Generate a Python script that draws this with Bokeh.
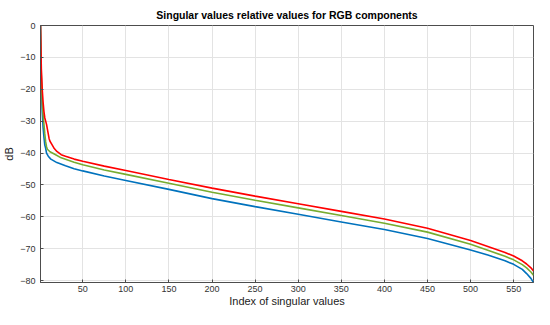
from bokeh.plotting import figure
from bokeh.models import Range1d, FixedTicker
from bokeh.embed import file_html
from bokeh.resources import INLINE

# Sampled curve points (index, dB)
red_idx = [1, 2, 3, 4, 5, 6, 7, 8, 9, 10, 11, 12, 14, 17, 20, 25, 30, 40, 50, 75, 100, 150, 200, 250, 300, 350, 400, 450, 500, 520, 540, 550, 560, 565, 570, 573]
red_db = [0, -14, -20, -24, -27, -29, -30, -31, -32.5, -34, -35.5, -36.3, -37.2, -38.6, -39.5, -40.5, -41.0, -41.9, -42.6, -44.1, -45.5, -48.3, -51.0, -53.5, -55.9, -58.3, -60.7, -63.6, -67.4, -69.3, -71.2, -72.3, -73.8, -74.8, -76.0, -77.0]

green_idx = [1, 2, 3, 4, 5, 6, 7, 8, 9, 12, 17, 25, 40, 50, 75, 100, 150, 200, 250, 300, 350, 400, 450, 500, 520, 540, 550, 560, 565, 570, 573]
green_db = [0, -16, -24, -28, -31, -34, -36.5, -38, -38.8, -39.6, -40.3, -41.5, -42.9, -43.7, -45.3, -46.7, -49.5, -52.3, -54.8, -57.2, -59.6, -62.0, -64.8, -68.6, -70.5, -72.4, -73.5, -75.0, -76.0, -77.3, -78.3]

blue_idx = [1, 2, 3, 4, 5, 6, 7, 8, 10, 13, 20, 30, 40, 50, 75, 100, 150, 200, 250, 300, 350, 400, 450, 500, 520, 540, 550, 560, 565, 570, 573]
blue_db = [0, -18, -27, -32, -35, -37.5, -38.5, -40, -41, -41.9, -43, -44, -44.9, -45.6, -47.2, -48.6, -51.4, -54.3, -56.8, -59.2, -61.6, -64.0, -66.8, -70.4, -72.0, -73.8, -74.9, -76.5, -77.8, -79.3, -80.6]

x_ticks = [50, 100, 150, 200, 250, 300, 350, 400, 450, 500, 550]
y_ticks = [0, -10, -20, -30, -40, -50, -60, -70, -80]

FONT = "Liberation Sans"
AX = "#4d4d4d"

p = figure(width=534, height=309, output_backend="svg", toolbar_location=None,
           x_range=Range1d(1, 573), y_range=Range1d(-80.6, 0),
           title="Singular values relative values for RGB components",
           min_border_left=39, min_border_right=1, min_border_top=25, min_border_bottom=26)

p.title.align = "center"
p.title.text_font = FONT
p.title.text_font_size = "10.5px"
p.title.text_font_style = "bold"
p.title.text_color = "#000000"
p.title.offset = 0
p.title.standoff = 9

p.background_fill_color = "white"
p.border_fill_color = "white"
p.outline_line_color = AX
p.outline_line_width = 1

for ax in (p.xaxis[0], p.yaxis[0]):
    ax.major_tick_in = 3
    ax.major_tick_out = 0
    ax.minor_tick_line_color = None
    ax.axis_line_color = AX
    ax.major_tick_line_color = AX
    ax.major_label_text_font = FONT
    ax.major_label_text_font_size = "9px"
    ax.major_label_text_color = "#333333"
    ax.axis_label_text_font = FONT
    ax.axis_label_text_font_size = "11px"
    ax.axis_label_text_font_style = "normal"
    ax.axis_label_text_color = "#222222"

p.xaxis.ticker = FixedTicker(ticks=x_ticks)
p.yaxis.ticker = FixedTicker(ticks=y_ticks)
p.xaxis.axis_label = "Index of singular values"
p.yaxis.axis_label = "dB"
p.xaxis.major_label_standoff = 3
p.xaxis.axis_label_standoff = 0
p.yaxis.major_label_standoff = 5
p.yaxis.axis_label_standoff = 2

p.xgrid.ticker = FixedTicker(ticks=x_ticks)
p.ygrid.ticker = FixedTicker(ticks=y_ticks)
p.grid.grid_line_color = "#e3e3e3"
p.grid.grid_line_width = 1

p.line(blue_idx, blue_db, line_color="#0072BD", line_width=1.6)
p.line(green_idx, green_db, line_color="#77AC30", line_width=1.6)
p.line(red_idx, red_db, line_color="#FF0000", line_width=1.6)

open("out.html", "w").write(file_html(p, INLINE))
